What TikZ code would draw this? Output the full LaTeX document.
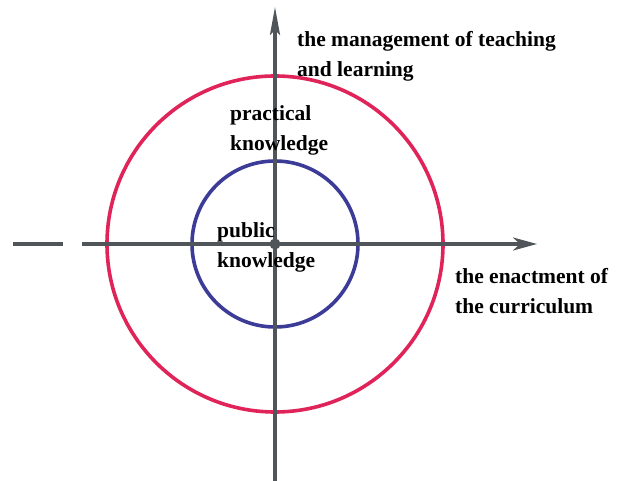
\documentclass[tikz,border=0pt]{standalone}
\usepackage{fontspec}
\setmainfont{Liberation Serif}
\usetikzlibrary{arrows.meta}
\definecolor{axisgray}{HTML}{4F5558}
\definecolor{ringred}{HTML}{E0245A}
\definecolor{ringblue}{HTML}{3C3C98}
\begin{document}
\begin{tikzpicture}[x=1pt,y=-1pt,
  axisline/.style={draw=axisgray,line width=3.2pt},
  ring/.style={line width=3.6pt},
  lbl/.style={font=\fontsize{21.5}{30}\selectfont\bfseries,align=left,anchor=base west,inner sep=0pt,text=black}]
\useasboundingbox[fill=white] (0,0) rectangle (619,481);
\coordinate (O) at (275,244);
\coordinate (xl) at (13,244);
\coordinate (xg1) at (63,244);
\coordinate (xg2) at (82,244);
\coordinate (xr) at (537,244);
\coordinate (yb) at (275,481);
\coordinate (yt) at (275,7);
\draw[ringred,ring] (O) circle (168);
\draw[ringblue,ring] (O) circle (83);
\draw[axisline] (xl) -- (xg1);
\draw[axisline,-{Stealth[length=24pt,width=13pt,inset=7pt]}] (xg2) -- (xr);
\draw[axisline,-{Stealth[length=28pt,width=10pt,inset=5pt]}] (yb) -- (yt);
\fill[axisgray] (O) circle (5.5);
\node[lbl] (mgmt) at (297,77) {the management of teaching\\and learning};
\node[lbl] (prac) at (230,151) {practical\\knowledge};
\node[lbl] (pub) at (217,268) {public\\knowledge};
\node[lbl] (enact) at (455,313) {the enactment of\\the curriculum};
\end{tikzpicture}
\end{document}
